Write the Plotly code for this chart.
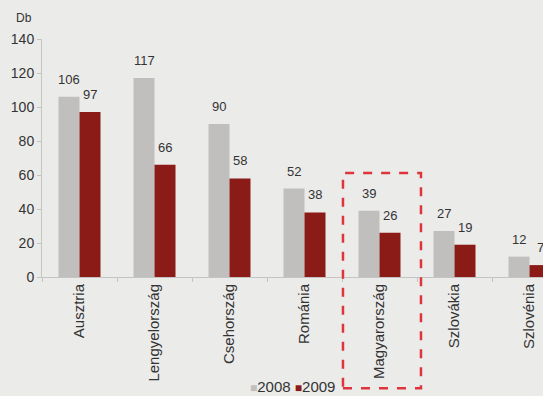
import plotly.graph_objects as go

categories = ["Ausztria", "Lengyelország", "Csehország", "Románia",
              "Magyarország", "Szlovákia", "Szlovénia"]
values_2008 = [106, 117, 90, 52, 39, 27, 12]
values_2009 = [97, 66, 58, 38, 26, 19, 7]
series_names = ["2008", "2009"]
highlight = "Magyarország"

GRAY = "#c0bfbe"
RED = "#8b1b17"
BG = "#ebebea"
TXT = "#333333"
FONT = "Liberation Sans, Arial, sans-serif"

xrange = [-0.5, 6.18]
BARGAP = 0.44
PLOT_W = 501
cat_px = PLOT_W / (xrange[1] - xrange[0])
bar_px = cat_px * (1 - BARGAP) / 2

fig = go.Figure()
fig.add_trace(go.Bar(x=categories, y=values_2008, name=series_names[0],
                     marker=dict(color=GRAY, line=dict(width=0))))
fig.add_trace(go.Bar(x=categories, y=values_2009, name=series_names[1],
                     marker=dict(color=RED, line=dict(width=0))))

# value labels above bars
for vals, sign in ((values_2008, -1), (values_2009, 1)):
    for c, v in zip(categories, vals):
        fig.add_annotation(x=c, y=v, xref="x", yref="y", text=str(v),
                           showarrow=False, xanchor="center", yanchor="bottom",
                           xshift=sign * bar_px / 2, yshift=8,
                           font=dict(size=13, color=TXT, family=FONT))

# highlight box around the highlighted category (paper coords from index)
idx = categories.index(highlight)
def to_paper(v):
    return (v - xrange[0]) / (xrange[1] - xrange[0])
fig.add_shape(type="rect", xref="paper", yref="paper",
              x0=to_paper(idx - 0.487), x1=to_paper(idx + 0.553),
              y0=-0.467, y1=0.437,
              line=dict(color="#e0343c", width=2.5, dash="dash"),
              fillcolor="rgba(0,0,0,0)")

fig.add_annotation(text="Db", xref="paper", yref="paper", x=-0.036, y=1.088,
                   xanchor="center", yanchor="middle", showarrow=False,
                   font=dict(size=12, color=TXT, family=FONT))

# legend drawn as text with coloured squares
legend_text = (f"<span style='color:{GRAY};font-size:12px'>■</span>{series_names[0]} "
               f"<span style='color:{RED};font-size:12px'>■</span>{series_names[1]}")
fig.add_annotation(text=legend_text, xref="paper", yref="paper",
                   x=(292 - 42) / 501, y=(277 - 386) / 238,
                   xanchor="center", yanchor="middle", showarrow=False,
                   font=dict(size=15, color=TXT, family=FONT))

fig.update_layout(
    width=543, height=396,
    margin=dict(l=42, r=0, t=39, b=119, autoexpand=False),
    paper_bgcolor=BG, plot_bgcolor=BG,
    font=dict(family=FONT, size=14, color=TXT),
    barmode="group", bargap=BARGAP, bargroupgap=0.0,
    showlegend=False,
    xaxis=dict(range=xrange, tickangle=-90, showgrid=False,
               showline=True, linecolor="#c4c4c4", linewidth=1,
               ticks="outside", tickson="boundaries", ticklen=4,
               tickcolor="#c4c4c4", tickfont=dict(size=15, color=TXT),
               fixedrange=True),
    yaxis=dict(range=[0, 140], dtick=20, showgrid=False, zeroline=False,
               showline=True, linecolor="#c4c4c4", linewidth=1,
               ticks="outside", ticklen=4, tickcolor="#c4c4c4",
               tickfont=dict(size=14, color=TXT), fixedrange=True),
)

fig.write_html("out.html", config={"displayModeBar": False})

with open("out.html", "r", encoding="utf-8") as f:
    html = f.read()
html = html.replace("<head>", "<head><style>html,body{margin:0;padding:0;overflow:hidden;}</style>", 1)
with open("out.html", "w", encoding="utf-8") as f:
    f.write(html)
